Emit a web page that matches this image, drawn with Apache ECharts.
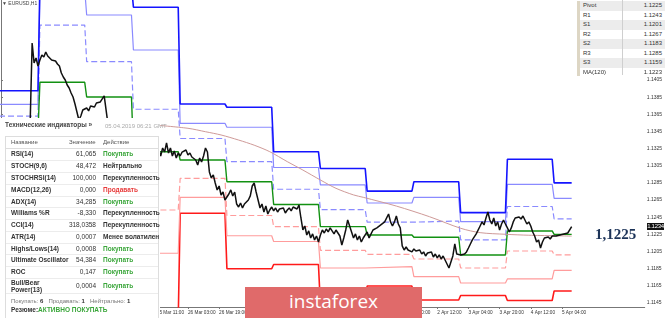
<!DOCTYPE html>
<html><head><meta charset="utf-8">
<script src="https://cdn.jsdelivr.net/npm/echarts@6/dist/echarts.min.js"></script>
<style>
body{margin:0;background:#fff;}
#wrap{position:relative;width:665px;height:318px;overflow:hidden;font-family:"Liberation Sans",Arial,sans-serif;color:#333;}
#chart{position:absolute;left:0;top:0;width:665px;height:318px;}
.abs{position:absolute;white-space:nowrap;}
</style></head>
<body><div id="wrap"><div id="chart"></div></div>
<script>
// ---------- data ----------
// hourly closes (hour index 0..293), null = not visible
const closes = [
null,null,null,null,null,null,null,null,null,null,
null,null,null,null,null,1.13560,1.14482,1.14248,1.14307,1.14213,
1.14283,1.14342,1.14318,1.14377,1.14330,1.14307,1.14283,1.14260,1.14272,1.14237,
1.14213,1.14132,1.14085,1.14050,1.13992,1.13957,1.13899,1.13852,1.13770,1.13677,
1.13584,1.13630,1.13700,1.13677,1.13724,1.13689,1.13747,1.13759,1.13735,1.13782,
1.13770,1.13794,1.13805,1.13864,1.13887,1.13525,null,null,null,null,
null,null,null,null,null,null,null,null,null,null,
null,null,null,null,null,null,null,null,null,null,
1.13210,1.13234,1.13164,1.13257,1.13210,1.13316,1.13199,1.13257,1.13164,1.13222,
1.13140,1.13199,1.13164,1.13210,1.13187,1.13234,1.13175,1.13199,1.13152,1.13175,
1.13117,1.13059,1.13140,1.13094,1.13164,1.13257,1.13210,1.12978,1.12908,1.12943,
1.12849,1.12768,1.12814,1.12709,1.12744,1.12651,1.12628,1.12721,1.12768,1.12698,
1.12744,1.12604,1.12569,1.12616,1.12558,1.12604,1.12581,1.12651,1.12698,1.12814,
1.12849,1.12744,1.12651,1.12558,1.12604,1.12511,1.12581,1.12488,1.12534,1.12569,
1.12523,1.12558,1.12511,1.12546,1.12523,1.12558,1.12499,1.12534,1.12558,1.12523,
1.12569,1.12581,1.12546,1.12593,1.12441,1.12301,1.12348,1.12243,1.12290,1.12208,
1.12255,1.12185,1.12231,1.12161,1.12243,1.12301,1.12266,1.12313,1.12278,1.12325,
1.12290,1.12255,1.12301,1.12266,1.12231,1.12126,1.12208,1.12301,1.12418,1.12348,
1.12278,1.12208,1.12255,1.12185,1.12231,1.12161,1.12208,1.12231,1.12278,1.12208,
1.12255,1.12301,1.12278,1.12325,1.12313,1.12360,1.12348,1.12395,1.12418,1.12488,
1.12395,1.12348,1.12395,1.12464,1.12371,1.12325,1.12115,1.12068,1.12103,1.12068,
1.12091,1.12045,1.12080,1.12056,1.12033,1.12068,1.12021,1.12045,1.11998,1.12033,
1.12010,1.12045,1.11986,1.12021,1.11975,1.12010,1.11963,1.11998,1.11951,1.11928,
1.11858,1.11928,1.11998,1.12138,1.12021,1.11998,1.12010,1.12033,1.12021,1.12045,
1.12091,1.12138,1.12185,1.12208,1.12255,1.12278,1.12348,1.12395,1.12360,1.12441,
1.12511,1.12418,1.12371,1.12441,1.12348,1.12395,1.12301,1.12371,1.12418,1.12371,
1.12325,1.12278,1.12325,1.12395,1.12441,1.12418,1.12453,1.12429,1.12464,1.12418,
1.12371,1.12395,1.12348,1.12278,1.12231,1.12161,1.12185,1.12091,1.12161,1.12208,
1.12185,1.12220,1.12196,1.12231,1.12208,1.12231,1.12220,1.12243,1.12231,1.12255,
1.12243,1.12266,1.12255,1.12340
];
// daily pivot levels, one value per trading day (20 Mar .. 5 Apr)
const dayStart = [0,20,44,68,92,116,140,164,188,212,236,260,284];
const lastHour = 293;
const r3 = [1.13925,1.1520,1.1515,1.14898,1.1377,1.13732,1.13214,1.13018,1.12754,1.12864,1.12503,1.13126,1.1285];
const r2 = [1.13767,1.1510,1.14808,1.1440,1.13545,1.13499,1.1303,1.12826,1.12616,1.12682,1.12398,1.12834,1.1267];
const r1 = [1.1363,1.14691,1.14264,1.13709,1.13368,1.13098,1.12776,1.12538,1.12392,1.12406,1.12185,1.12575,1.1243];
const pv = [1.1345,1.14023,1.13852,1.13214,1.13117,1.12864,1.12599,1.1234,1.12243,1.12216,1.1201,1.1229,1.1225];
const s1 = [null,null,null,1.12534,1.12904,1.1247,1.1234,1.12064,1.12016,1.11963,1.11858,1.12056,1.1201];
const s2 = [null,null,null,1.1203,1.12682,1.12234,1.12167,1.11858,1.11873,1.11757,1.11683,1.1173,1.1183];
const s3 = [null,null,null,1.1125,1.12496,1.11849,1.11899,1.1142,1.11648,1.11485,1.11537,1.11479,1.1159];
// MA(120) readings
const maHours = [79,96,105,113,122,130,138,147,155,164,172,181,186,203,220,236,246,259,271,293];
const maValues = [1.13525,1.13487,1.13447,1.13409,1.1335,1.1329,1.13214,1.13098,1.1300,1.12884,1.12787,1.1271,1.12682,1.1258,1.12456,1.12321,1.1227,1.12251,1.1224,1.1223];
// axis ticks
const xTickHours = [80,96,112,128,144,160,176,192,208,224,240,256,272,288];
const xTickLabels = ['25 Mar 11:00','26 Mar 03:00','26 Mar 19:00','27 Mar 11:00','28 Mar 03:00','28 Mar 19:00','29 Mar 11:00','1 Apr 04:00','1 Apr 20:00','2 Apr 12:00','3 Apr 04:00','3 Apr 20:00','4 Apr 12:00','5 Apr 04:00'];
const yTicks = [1.1145,1.1165,1.1185,1.1205,1.1225,1.1245,1.1265,1.1285,1.1305,1.1325,1.1345,1.1365,1.1385,1.1405];
// pivot table
const pivotNames = ['Pivot','R1','S1','R2','S2','R3','S3','MA(120)'];
const pivotValues = ['1.1225','1.1243','1.1201','1.1267','1.1183','1.1285','1.1159','1.1223'];
// technical indicators widget
const tiNames = ['RSI(14)','STOCH(9,6)','STOCHRSI(14)','MACD(12,26)','ADX(14)','Williams %R','CCI(14)','ATR(14)','Highs/Lows(14)','Ultimate Oscillator','ROC','Bull/Bear<br>Power(13)'];
const tiValues = ['61,065','48,472','100,000','0,000','34,285','-8,330','318,0358','0,0007','0,0008','54,384','0,147','0,0004'];
const tiActions = ['Покупать','Нейтрально','Перекупленность','Продавать','Покупать','Перекупленность','Перекупленность','Менее волатилен','Покупать','Покупать','Покупать','Покупать'];
const bigLabel = '1,1225';

// ---------- chart ----------
function stepPoints(vals){
  const pts=[];
  for(let d=0; d<vals.length; d++){
    const s = d===0 ? -1 : dayStart[d];
    const e = d<vals.length-1 ? dayStart[d+1]-1 : lastHour;
    if(vals[d]==null){ pts.push([s,null]); continue; }
    pts.push([s,vals[d]]); pts.push([e,vals[d]]);
  }
  return pts;
}
function lvl(name, vals, color, width, dashed){
  return {name, type:'line', data:stepPoints(vals), symbol:'none', connectNulls:false, silent:true,
    lineStyle:{color, width, type: dashed ? [6,3] : 'solid'}, z:2};
}
const chart = echarts.init(document.getElementById('chart'), null, {renderer:'canvas'});
chart.setOption({
  animation:false,
  backgroundColor:'#fff',
  grid:{left:0, right:18, top:0, bottom:11},
  xAxis:{type:'value', min:-0.5, max:330.5, position:'bottom',
    axisLine:{show:true, lineStyle:{color:'#777', width:1}},
    axisTick:{show:true, customValues:xTickHours, length:2, lineStyle:{color:'#777'}},
    axisLabel:{customValues:xTickHours, align:'left', margin:3, fontSize:4.7, color:'#333',
      fontFamily:'Liberation Sans', formatter:(v)=>{const i=xTickHours.indexOf(Math.round(v)); return i>=0?xTickLabels[i]:'';}},
    splitLine:{show:false}},
  yAxis:{type:'value', min:1.11403, max:1.14983, position:'right', scale:true,
    axisLine:{show:true, lineStyle:{color:'#777', width:1}},
    axisTick:{show:true, customValues:yTicks, length:2, lineStyle:{color:'#777'}},
    axisLabel:{customValues:yTicks, margin:2, fontSize:5, color:'#333', fontFamily:'Liberation Sans',
      formatter:(v)=>v.toFixed(4)},
    splitLine:{show:false}},
  graphic:[{type:'text', left:2, top:1, style:{text:'▼ EURUSD,H1', fontSize:5, fill:'#444', fontFamily:'Liberation Sans'}}],
  series:[
    lvl('S3', s3, '#ff1a1a', 1.6, false),
    lvl('S2', s2, '#ff9c9c', 1.2, false),
    lvl('S1', s1, '#ff9c9c', 1.2, true),
    lvl('R1', r1, '#8a8aff', 1.2, true),
    lvl('R2', r2, '#8a8aff', 1.2, false),
    lvl('R3', r3, '#1414ff', 1.6, false),
    lvl('Pivot', pv, '#129112', 1.4, false),
    {name:'MA(120)', type:'line', data:maHours.map((h,i)=>[h,maValues[i]]), symbol:'none', smooth:0.3,
      lineStyle:{color:'#cf9a98', width:1}, z:3, silent:true},
    {name:'EURUSD', type:'line', data:closes.map((c,i)=>[i,c]), symbol:'none', connectNulls:false,
      lineStyle:{color:'#111', width:1.5}, z:4, silent:true}
  ]
});

// ---------- overlays ----------
const wrap = document.getElementById('wrap');
function add(html, css){ const d=document.createElement('div'); d.className='abs'; d.innerHTML=html; Object.assign(d.style, css); wrap.appendChild(d); return d; }

// current price box on the axis
const lastClose = closes[closes.length-1];
const py = chart.convertToPixel({yAxisIndex:0}, lastClose);
add(lastClose.toFixed(4), {left:'647px', top:(py-3.5)+'px', height:'7px', lineHeight:'7px', width:'17px', background:'#111', color:'#fff', fontSize:'6px', textAlign:'center', letterSpacing:'-0.3px'});

// big price label
add(bigLabel, {left:'595px', top:'225px', fontFamily:'"Liberation Serif","DejaVu Serif",serif', fontWeight:'bold', fontSize:'15px', color:'#1c3358', lineHeight:'18px'});

// watermark
add('instaforex', {left:'245px', top:'287px', width:'177px', height:'31px', background:'#e06a6a', color:'#fff', fontFamily:'"Open Sans",sans-serif', fontSize:'19px', lineHeight:'28px', textAlign:'center'});

// pivot table
const pt = add('', {left:'577px', top:'0px', width:'88px', height:'76px', background:'#fff'});
pivotNames.forEach((n,i)=>{
  const top = 1 + i*9.5;
  const row = document.createElement('div');
  Object.assign(row.style, {position:'absolute', left:'0', top:top+'px', width:'88px', height:(i===7?'8.5px':'9.5px'), background: i%2===0 && i<7 ? '#ececec' : '#fff'});
  row.innerHTML = '<div style="position:absolute;left:0;top:0;width:3px;height:100%;background:#ddd6c4"></div>'+
    '<div style="position:absolute;left:6px;top:0;line-height:9.5px;font-size:6px;color:#333">'+n+'</div>'+
    '<div style="position:absolute;right:3px;top:0;line-height:9.5px;font-size:6px;color:#333">'+pivotValues[i]+'</div>';
  pt.appendChild(row);
});
const sep = document.createElement('div');
Object.assign(sep.style,{position:'absolute', left:'45px', top:'0', width:'1px', height:'75px', background:'#cfcfcf'});
pt.appendChild(sep);

// technical indicators widget
const w = add('', {left:'0px', top:'118px', width:'160px', height:'200px', background:'#fff'});
function wAdd(html, css){ const d=document.createElement('div'); d.style.position='absolute'; d.style.whiteSpace='nowrap'; d.innerHTML=html; Object.assign(d.style, css); w.appendChild(d); return d; }
wAdd('Технические индикаторы »', {left:'5px', top:'3px', fontSize:'6.5px', fontWeight:'bold', color:'#444', lineHeight:'8px'});
wAdd('05.04.2019 06:21 GMT', {left:'105px', top:'3.5px', fontSize:'6px', color:'#aaa', lineHeight:'8px'});
wAdd('', {left:'5px', top:'18px', width:'154px', height:'182px', border:'1px solid #ddd', borderBottom:'none', boxSizing:'border-box'});
wAdd('', {left:'5px', top:'30px', width:'154px', height:'1px', background:'#ddd'});
wAdd('Название', {left:'11px', top:'20px', fontSize:'6px', color:'#555', lineHeight:'8px'});
wAdd('Значение', {left:'69px', top:'20px', fontSize:'6px', color:'#555', lineHeight:'8px'});
wAdd('Действие', {left:'103px', top:'20px', fontSize:'6px', color:'#555', lineHeight:'8px'});
const rowCenters = [154,166,178,190,201.5,213,225,237,248.5,260,272,285.5];
const rowSeps = [160,172,184,196,207,219,231,243,254,266,278,293];
rowSeps.forEach(y=>wAdd('', {left:'6px', top:(y-118)+'px', width:'152px', height:'1px', background:'#ececec'}));
tiNames.forEach((n,i)=>{
  const c = rowCenters[i]-118;
  const two = n.indexOf('<br>')>=0;
  wAdd(n, {left:'11px', top:(c-(two?7:4))+'px', fontSize:'6.5px', color:'#333', lineHeight:'7px', fontWeight:'600'});
  wAdd(tiValues[i], {right:(160-96)+'px', top:(c-4)+'px', fontSize:'6.5px', color:'#333', lineHeight:'8px'});
  const a = tiActions[i];
  const col = a==='Покупать' ? '#3aa63a' : (a==='Продавать' ? '#e83a3a' : '#333');
  wAdd(a, {left:'103px', top:(c-4)+'px', fontSize:'6.5px', color:col, lineHeight:'8px', fontWeight:'600'});
});
wAdd('<span style="color:#777">Покупать:</span> <b>6</b> &nbsp; <span style="color:#777">Продавать:</span> <b>1</b> &nbsp; <span style="color:#777">Нейтрально:</span> <b>1</b>',
  {left:'11px', top:(301-118-4)+'px', fontSize:'6px', color:'#333', lineHeight:'8px'});
wAdd('Резюме:<span style="color:#3aa63a">АКТИВНО ПОКУПАТЬ</span>', {left:'11px', top:(310-118-4)+'px', fontSize:'6.5px', fontWeight:'bold', color:'#333', lineHeight:'8px'});
</script>
</body></html>
